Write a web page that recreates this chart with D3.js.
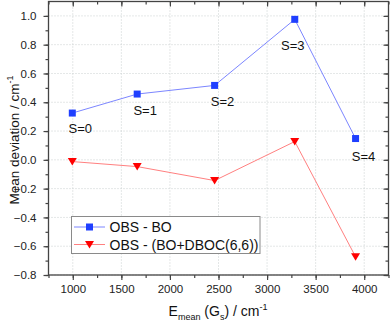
<!DOCTYPE html>
<html lang="en">
<head>
<meta charset="utf-8">
<title>mean deviation</title>
<script src="https://d3js.org/d3.v7.min.js"></script>
<style>
body { margin: 0; background: #fff; }
svg { display: block; font-family: "Liberation Sans", Arial, sans-serif; }
</style>
</head>
<body>
<script>

// data
var energies = [995, 1663, 2460, 3285, 3911];
var obsBO = [0.325, 0.457, 0.517, 0.976, 0.148];
var obsDBOC = [-0.012, -0.047, -0.144, 0.127, -0.673];
var stateLabels = ["S=0", "S=1", "S=2", "S=3", "S=4"];
var xTicks = [1000, 1500, 2000, 2500, 3000, 3500, 4000];
var yTicks = [-0.8, -0.6, -0.4, -0.2, 0.0, 0.2, 0.4, 0.6, 0.8, 1.0];
var seriesNames = ["OBS - BO", "OBS - (BO+DBOC(6,6))"];

var width = 390, height = 323;
// note: "top" is a reserved window property, so use plot* names
var plotL = 48.5, plotR = 388.5, plotT = 1.5, plotB = 275;

var x = d3.scaleLinear().domain([750, 4250]).range([plotL, plotR]);
var y = d3.scaleLinear().domain([-0.8, 1.1]).range([plotB, plotT]);

var svg = d3.select("body").append("svg")
    .attr("width", width)
    .attr("height", height);

// dotted grid
svg.append("g").selectAll("line").data(xTicks).enter().append("line")
    .attr("x1", d => x(d)).attr("x2", d => x(d))
    .attr("y1", plotT).attr("y2", plotB)
    .attr("stroke", "#c9cfcf").attr("stroke-dasharray", "1,2");
svg.append("g").selectAll("line").data(yTicks).enter().append("line")
    .attr("y1", d => y(d)).attr("y2", d => y(d))
    .attr("x1", plotL).attr("x2", plotR)
    .attr("stroke", "#c9cfcf").attr("stroke-dasharray", "1,2");

var xMinor = d3.range(750, 4251, 250);
var yMinor = d3.range(-8, 11).map(d => d / 10);

function styleAxis(g) {
    g.select(".domain").remove();
    g.selectAll("line").attr("stroke", "#444").attr("stroke-width", 1.2);
    g.selectAll("text").attr("fill", "#222").attr("font-size", 11.5)
        .attr("font-family", "'Liberation Sans', Arial, sans-serif");
}

// bottom / top
svg.append("g").attr("transform", "translate(0," + plotB + ")")
    .call(d3.axisBottom(x).tickValues(xMinor).tickSize(3).tickFormat(""))
    .call(styleAxis);
svg.append("g").attr("transform", "translate(0," + plotB + ")")
    .call(d3.axisBottom(x).tickValues(xTicks).tickSize(5).tickPadding(5).tickFormat(d3.format("d")))
    .call(styleAxis);
svg.append("g").attr("transform", "translate(0," + plotT + ")")
    .call(d3.axisTop(x).tickValues(xMinor).tickSize(-3).tickFormat(""))
    .call(styleAxis);
svg.append("g").attr("transform", "translate(0," + plotT + ")")
    .call(d3.axisTop(x).tickValues(xTicks).tickSize(-5).tickFormat(""))
    .call(styleAxis);

// left / right
svg.append("g").attr("transform", "translate(" + plotL + ",0)")
    .call(d3.axisLeft(y).tickValues(yMinor).tickSize(3).tickFormat(""))
    .call(styleAxis);
svg.append("g").attr("transform", "translate(" + plotL + ",0)")
    .call(d3.axisLeft(y).tickValues(yTicks).tickSize(5).tickPadding(7).tickFormat(d3.format(".1f")))
    .call(styleAxis);
svg.append("g").attr("transform", "translate(" + plotR + ",0)")
    .call(d3.axisRight(y).tickValues(yMinor).tickSize(-3).tickFormat(""))
    .call(styleAxis);
svg.append("g").attr("transform", "translate(" + plotR + ",0)")
    .call(d3.axisRight(y).tickValues(yTicks).tickSize(-5).tickFormat(""))
    .call(styleAxis);

// frame
svg.append("rect")
    .attr("x", plotL).attr("y", plotT)
    .attr("width", plotR - plotL).attr("height", plotB - plotT)
    .attr("fill", "none").attr("stroke", "#444").attr("stroke-width", 1.3);

var line = d3.line().x(d => x(d[0])).y(d => y(d[1]));
var blueLine = "#7c86ff", blueMark = "#1f3fff";
var redLine = "#ff8080", redMark = "#ff0000";

var blueData = d3.zip(energies, obsBO);
var redData = d3.zip(energies, obsDBOC);

svg.append("path").datum(blueData).attr("d", line)
    .attr("fill", "none").attr("stroke", blueLine).attr("stroke-width", 1);
svg.append("path").datum(redData).attr("d", line)
    .attr("fill", "none").attr("stroke", redLine).attr("stroke-width", 1);

var square = d3.symbol().type(d3.symbolSquare).size(49);
var tri = "M-4.5,-3.5L4.5,-3.5L0,4z";

svg.selectAll(".sq").data(blueData).enter().append("path")
    .attr("class", "sq")
    .attr("transform", d => "translate(" + x(d[0]) + "," + y(d[1]) + ")")
    .attr("d", square).attr("fill", blueMark);
svg.selectAll(".tri").data(redData).enter().append("path")
    .attr("class", "tri")
    .attr("transform", d => "translate(" + x(d[0]) + "," + y(d[1]) + ")")
    .attr("d", tri).attr("fill", redMark);

// state labels, below-right of the points (S=3 sits under its peak)
var labelOffsets = [[8, 20], [8, 21], [8, 21], [-2, 31], [8, 22]];
svg.selectAll(".lab").data(blueData).enter().append("text")
    .attr("class", "lab")
    .attr("x", (d, i) => x(d[0]) + labelOffsets[i][0])
    .attr("y", (d, i) => y(d[1]) + labelOffsets[i][1])
    .attr("text-anchor", "middle")
    .attr("font-size", 13).attr("fill", "#111")
    .text((d, i) => stateLabels[i]);

// legend
var lg = svg.append("g");
lg.append("rect").attr("x", 71.5).attr("y", 216.5).attr("width", 188.5).attr("height", 37)
    .attr("fill", "#fff").attr("stroke", "#8a8a8a").attr("stroke-width", 1);
var rows = [
    {name: seriesNames[0], c: blueLine, m: blueMark, sym: "sq", y: 227},
    {name: seriesNames[1], c: redLine, m: redMark, sym: "tri", y: 244.5}
];
rows.forEach(function(r) {
    lg.append("line").attr("x1", 74).attr("x2", 105).attr("y1", r.y).attr("y2", r.y)
        .attr("stroke", r.c).attr("stroke-width", 1);
    lg.append("path").attr("transform", "translate(89.5," + r.y + ")")
        .attr("d", r.sym == "sq" ? square() : tri).attr("fill", r.m);
    lg.append("text").attr("x", 109.5).attr("y", r.y + 5)
        .attr("font-size", 14).attr("fill", "#111").text(r.name);
});

// axis titles
var yt = svg.append("text")
    .attr("transform", "translate(19,140) rotate(-90)")
    .attr("text-anchor", "middle").attr("font-size", 13.5).attr("fill", "#111");
yt.append("tspan").text("Mean deviation / cm");
yt.append("tspan").attr("font-size", 9).attr("dy", -6).text("-1");

var xt = svg.append("text")
    .attr("x", 218).attr("y", 316)
    .attr("text-anchor", "middle").attr("font-size", 14).attr("fill", "#111");
xt.append("tspan").text("E");
xt.append("tspan").attr("font-size", 9).attr("dy", 4).text("mean");
xt.append("tspan").attr("dy", -4).text(" (G");
xt.append("tspan").attr("font-size", 9).attr("dy", 4).text("s");
xt.append("tspan").attr("dy", -4).text(") / cm");
xt.append("tspan").attr("font-size", 9).attr("dy", -6).text("-1");

</script>
</body>
</html>
